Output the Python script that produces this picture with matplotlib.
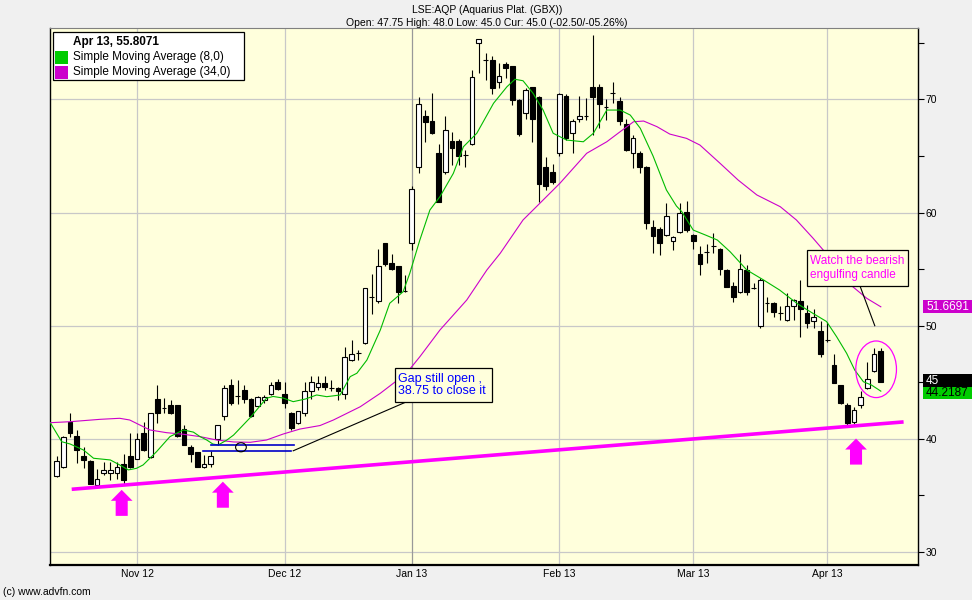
import matplotlib
matplotlib.use('Agg')
import matplotlib.pyplot as plt
import matplotlib.transforms as mtransforms
from matplotlib.patches import Rectangle, Ellipse, Polygon
import numpy as np
import pandas as pd

plt.rcParams['font.family'] = ['Liberation Sans', 'DejaVu Sans']

# daily candles, LSE:AQP, 16 Oct 2012 - 12 Apr 2013
opens = [36.7, 37.5, 41.5, 40.3, 38.5, 38.05, 35.9, 36.96, 36.96, 36.96,
         37.8, 38.5, 38.2, 40.5, 38.4, 43.5, 42.7, 43.0, 43.0, 40.9,
         39.3, 38.8, 37.5, 37.75, 40.0, 42.0, 44.75, 43.8, 44.3, 43.5,
         42.95, 43.45, 44.0, 45.05, 44.0, 42.26, 41.4, 42.3, 44.2, 44.6,
         44.9, 44.5, 44.5, 44.0, 47.0, 47.56, 48.5, 52.5, 52.2, 57.3,
         55.5, 55.3, 53.07, 57.3, 64.0, 68.5, 68.1, 65.3, 63.55, 66.35,
         66.35, 65.1, 66.05, 75.0, 73.5, 73.5, 71.5, 73.1, 72.9, 69.9,
         68.8, 71.1, 70.2, 64.05, 63.55, 65.3, 70.3, 67.0, 68.26, 68.5,
         71.1, 71.1, 69.3, 70.6, 69.85, 67.8, 65.3, 65.3, 64.0, 58.75,
         58.54, 58.0, 57.5, 58.25, 60.07, 58.0, 56.3, 56.5, 57.0, 56.8,
         54.9, 53.5, 53.0, 54.9, 53.3, 50.0, 52.0, 52.0, 51.1, 50.5,
         51.7, 52.2, 51.1, 50.45, 49.5, 48.7, 46.5, 44.76, 43.0, 41.45,
         43.0, 44.47, 46.0, 47.75]
highs = [38.5, 40.3, 42.3, 40.8, 39.3, 38.1, 37.3, 38.0, 38.0, 38.0,
         38.7, 40.5, 40.5, 41.5, 42.3, 44.8, 43.6, 43.4, 43.0, 41.2,
         39.5, 38.8, 38.6, 38.9, 41.2, 44.8, 45.3, 45.2, 44.8, 43.6,
         43.8, 43.9, 45.0, 45.3, 45.05, 42.4, 42.5, 45.0, 45.6, 45.6,
         45.6, 45.2, 44.6, 48.15, 48.7, 47.85, 53.3, 54.57, 56.8, 57.3,
         56.3, 55.3, 54.5, 62.3, 70.2, 69.1, 70.6, 66.05, 68.5, 67.1,
         66.5, 65.5, 72.6, 75.3, 74.06, 73.8, 73.2, 73.3, 72.9, 70.0,
         71.0, 71.1, 70.3, 64.9, 64.3, 70.6, 70.5, 68.3, 70.3, 70.1,
         75.7, 71.35, 70.0, 71.55, 70.2, 68.3, 66.85, 65.45, 64.1, 59.35,
         58.7, 60.8, 57.9, 60.8, 61.0, 58.1, 57.0, 57.2, 58.2, 56.9,
         55.0, 53.9, 56.3, 55.4, 53.75, 54.2, 52.56, 52.1, 51.7, 52.86,
         52.4, 54.0, 51.8, 51.45, 50.45, 50.35, 47.5, 44.8, 43.2, 42.8,
         44.26, 46.8, 48.0, 48.0]
lows = [36.6, 37.4, 40.2, 37.9, 37.4, 36.0, 35.85, 36.8, 36.4, 36.5,
        35.9, 37.4, 38.2, 38.9, 38.3, 41.4, 42.3, 42.2, 40.2, 39.5,
        38.0, 37.5, 37.4, 37.5, 39.5, 41.7, 43.0, 43.1, 43.2, 41.9,
        42.9, 43.2, 43.9, 44.3, 42.7, 40.8, 41.3, 42.0, 43.5, 44.3,
        44.3, 44.2, 43.4, 43.5, 46.9, 47.0, 48.4, 51.0, 52.0, 55.3,
        54.9, 52.0, 53.0, 56.7, 63.5, 66.25, 66.9, 60.9, 63.4, 64.2,
        64.2, 64.05, 66.0, 72.3, 71.7, 70.5, 71.0, 71.85, 69.5, 66.8,
        68.3, 66.25, 60.9, 62.0, 62.5, 65.0, 66.4, 65.3, 68.0, 68.2,
        66.85, 67.5, 68.2, 69.65, 67.7, 65.4, 63.9, 63.5, 58.5, 56.45,
        56.25, 57.9, 56.7, 58.2, 58.3, 56.75, 54.5, 55.5, 56.4, 54.5,
        53.4, 52.1, 52.9, 52.7, 53.2, 49.8, 51.2, 50.8, 50.5, 50.4,
        50.5, 49.0, 49.8, 49.8, 47.2, 48.6, 44.9, 43.1, 41.2, 41.3,
        42.7, 44.4, 45.9, 45.0]
closes = [38.05, 40.2, 40.5, 39.0, 38.1, 36.0, 36.5, 37.25, 37.25, 37.55,
          36.4, 37.5, 40.0, 39.0, 42.26, 42.26, 42.7, 42.3, 40.3, 39.5,
          38.7, 37.5, 37.8, 38.5, 41.2, 44.5, 43.2, 43.8, 43.5, 42.0,
          43.74, 43.74, 44.75, 44.4, 43.2, 40.94, 42.5, 44.2, 45.0, 44.9,
          44.6, 44.5, 44.2, 47.2, 47.5, 47.56, 53.3, 52.5, 55.3, 55.45,
          55.0, 53.0, 53.07, 62.05, 69.56, 68.0, 67.0, 60.95, 67.3, 65.7,
          65.0, 65.1, 72.0, 75.3, 73.5, 71.0, 72.05, 72.8, 69.9, 66.9,
          70.8, 68.3, 62.5, 62.3, 62.7, 70.5, 66.55, 68.1, 68.5, 68.5,
          70.2, 69.6, 69.3, 70.6, 68.1, 65.5, 66.55, 64.0, 59.05, 57.95,
          57.28, 59.7, 57.8, 60.0, 58.45, 57.5, 55.45, 56.5, 57.0, 55.0,
          53.45, 52.5, 55.0, 53.0, 53.3, 54.04, 52.0, 51.2, 51.1, 51.75,
          52.25, 51.5, 50.2, 50.75, 47.5, 48.7, 44.97, 43.2, 41.4, 42.55,
          43.73, 45.27, 47.5, 45.0]

# moving averages (candle index, price)
sma8_x = [-0.9, 0.75, 2.0, 4.0, 5.5, 8.0, 9.4, 10.7, 11.9, 12.9,
          14.9, 16.9, 18.9, 20.4, 21.4, 22.4, 23.3, 24.1, 25.4, 26.4,
          28.9, 31.3, 32.3, 33.8, 35.3, 37.1, 38.8, 40.3, 42.3, 43.8,
          44.8, 46.3, 48.3, 49.7, 51.7, 52.7, 54.2, 55.7, 57.2, 59.2,
          60.7, 62.7, 65.2, 67.2, 68.4, 69.6, 71.1, 72.6, 74.1, 76.1,
          78.6, 80.1, 82.1, 84.1, 85.6, 87.1, 89.0, 91.0, 92.5, 93.3,
          95.0, 97.0, 98.6, 100.5, 103.0, 105.5, 107.9, 110.6, 112.9, 114.9,
          116.4, 117.9, 119.1, 120.4, 121.6, 123.0]
sma8_y = [41.37, 39.75, 39.55, 39.02, 38.29, 38.14, 37.70, 37.26, 37.40, 37.70,
          38.87, 40.20, 40.79, 40.6, 40.20, 39.90, 39.55, 39.46, 39.90, 40.34,
          41.89, 43.59, 43.75, 43.61, 43.29, 43.52, 43.88, 43.73, 43.88, 45.5,
          45.8, 46.97, 49.62, 51.98, 53.0, 54.63, 57.57, 60.22, 61.40, 63.46,
          65.81, 67.0, 69.65, 71.11, 71.77, 71.64, 70.53, 69.05, 67.0, 66.40,
          66.25, 67.0, 69.05, 69.05, 68.61, 67.44, 65.0, 61.99, 60.57, 60.07,
          58.45, 57.97, 57.57, 56.54, 54.92, 54.04, 53.15, 51.92, 51.08, 50.37,
          49.03, 47.56, 46.09, 45.05, 44.76, 44.22]
sma34_x = [-1.0, 2.0, 6.5, 9.4, 10.9, 12.4, 13.9, 16.4, 18.9, 21.4,
           23.9, 26.4, 28.9, 31.3, 33.8, 36.3, 39.3, 41.3, 45.3, 48.3,
           52.2, 54.2, 57.2, 61.2, 64.2, 66.2, 69.6, 72.1, 75.1, 79.1,
           82.1, 84.1, 86.1, 87.6, 89.6, 91.5, 94.0, 96.0, 99.0, 101.7,
           104.5, 108.0, 110.4, 112.9, 114.4, 118.8, 120.9, 123.0]
sma34_y = [41.43, 41.52, 41.73, 41.82, 41.67, 41.23, 40.79, 40.55, 40.41, 40.2,
           39.9, 39.73, 39.70, 39.90, 40.43, 40.87, 41.18, 41.67, 42.84, 44.03,
           45.80, 47.26, 49.62, 52.27, 54.92, 56.40, 59.34, 60.81, 62.58, 65.23,
           66.25, 67.14, 68.02, 68.08, 67.58, 66.93, 66.55, 65.96, 64.35, 62.87,
           61.55, 60.51, 59.34, 57.72, 56.69, 53.45, 52.42, 51.67]

last_sma8 = 44.2187
last_sma34 = 51.6691
uk_holidays = ['2012-12-25', '2012-12-26', '2013-01-01', '2013-03-29', '2013-04-01']

W, H = 972, 600
BG = '#FFFFDC'
MAG = '#FF00FF'


def px(x, y):
    # pixel position -> figure fraction
    return x / W, 1 - y / H


dates = pd.bdate_range('2012-10-16', periods=len(closes), freq='C', holidays=uk_holidays)
x = np.arange(len(closes))
o = np.array(opens)
c = np.array(closes)
month_pos = [i for i in range(1, len(dates)) if dates[i].month != dates[i - 1].month]
month_lab = [dates[i].strftime('%b %y') for i in month_pos]

fig = plt.figure(figsize=(W / 100, H / 100), dpi=100, facecolor='#F0F0F0')
ax = fig.add_axes([50 / W, 35 / H, 868 / W, 537 / H])
ax.set_facecolor(BG)
ax.set_xlim(-1.0, 128.55)
ax.set_ylim(28.86, 76.3)

# grid
for p in range(30, 80, 10):
    ax.axhline(p, color='#C8C8C8', lw=0.9, zorder=0)
for i in month_pos:
    col = '#999999' if dates[i].month == 1 else '#C8C8C8'
    ax.axvline(i, color=col, lw=0.9, zorder=0)

# candles
up = c >= o
ax.vlines(x, lows, highs, color='black', lw=0.8, zorder=2)
ax.bar(x[up], (c - o)[up], bottom=o[up], width=0.7, color='white',
       edgecolor='black', lw=0.8, zorder=3)
ax.bar(x[~up], (o - c)[~up], bottom=c[~up], width=0.7, color='black',
       edgecolor='black', lw=0.8, zorder=3)

# moving averages
ax.plot(sma34_x, sma34_y, color='#CC00CC', lw=0.8, zorder=4)
ax.plot(sma8_x, sma8_y, color='#00BB00', lw=0.8, zorder=4)

# hand-drawn annotations
ax.plot([2.24, 126.4], [35.55, 41.5], color=MAG, lw=2.6, zorder=5,
        solid_capstyle='butt')


def up_arrow(cx, tip):
    hw, sw, hl, ln = 1.62, 0.9, 0.97, 2.3
    pts = [(cx, tip), (cx + hw, tip - hl), (cx + sw, tip - hl), (cx + sw, tip - ln),
           (cx - sw, tip - ln), (cx - sw, tip - hl), (cx - hw, tip - hl)]
    ax.add_patch(Polygon(pts, closed=True, facecolor=MAG, edgecolor='none', zorder=5))


up_arrow(9.7, 35.5)
up_arrow(24.8, 36.22)
up_arrow(119.3, 40.03)

ax.add_patch(Ellipse((122.3, 46.15), 6.07, 5.0, fill=False, edgecolor=MAG,
                     lw=0.9, zorder=5))
ax.plot([23.1, 35.4], [39.46, 39.46], color='#0000C8', lw=1.2, zorder=5)
ax.plot([21.8, 34.9], [38.9, 38.9], color='#0000C8', lw=1.2, zorder=5)
ax.add_patch(Ellipse((27.5, 39.26), 1.6, 0.8, fill=False, edgecolor='black',
                     lw=0.8, zorder=6))

ax.plot([35.3, 52.3], [38.95, 43.3], color='black', lw=0.8, zorder=5)
ax.add_patch(Rectangle((50.5, 43.3), 14.4, 3.0, facecolor=BG, edgecolor='black',
                       lw=0.9, zorder=7))
ax.text(50.95, 45.27, 'Gap still open ,', color='#0000FF', fontsize=9,
        va='center', ha='left', zorder=8)
ax.text(50.95, 44.23, '38.75 to close it', color='#0000FF', fontsize=9,
        va='center', ha='left', zorder=8)

ax.plot([119.9, 122.1], [53.5, 50.0], color='black', lw=0.8, zorder=5)
ax.add_patch(Rectangle((112.0, 53.51), 15.0, 3.15, facecolor=BG, edgecolor='black',
                       lw=0.9, zorder=7))
ax.text(112.4, 55.72, 'Watch the bearish', color=MAG, fontsize=8.5,
        va='center', ha='left', zorder=8)
ax.text(112.4, 54.48, 'engulfing candle', color=MAG, fontsize=8.5,
        va='center', ha='left', zorder=8)

# axes and ticks
for s in ['left', 'bottom', 'right']:
    ax.spines[s].set_color('black')
ax.spines['bottom'].set_linewidth(1.6)
ax.spines['left'].set_linewidth(1.0)
ax.spines['right'].set_linewidth(1.0)
ax.spines['top'].set_color('#808080')
ax.yaxis.tick_right()
ax.set_yticks(range(30, 80, 10))
ax.set_yticks(range(35, 80, 10), minor=True)
ax.tick_params(axis='y', which='both', direction='out', length=4, width=0.8,
               labelsize=7.5, pad=1.5)
ax.set_xticks(month_pos)
ax.set_xticklabels(month_lab)
ax.tick_params(axis='x', length=0, labelsize=7.5, pad=3)

# value flags on the right edge
flag = mtransforms.blended_transform_factory(fig.transFigure, ax.transData)
flags = [(last_sma34, 0.0, '#CC00CC', 'white', '%.4f' % last_sma34),
         (closes[-1], 0.13, 'black', 'white', '%g' % closes[-1]),
         (last_sma8, -0.17, '#00CC00', 'black', '%.4f' % last_sma8)]
for val, off, fc, tc, txt in flags:
    yc = val + off
    ax.add_patch(Rectangle((922.7 / W, yc - 0.56), 1 - 922.7 / W, 1.12, transform=flag,
                           facecolor=fc, edgecolor='none', clip_on=False, zorder=9))
    ax.text(926 / W, yc, txt, transform=flag, color=tc, fontsize=8.5, va='center',
            ha='left', clip_on=False, zorder=10)

# legend box
fig.patches.append(Rectangle(px(53.3, 80), (244 - 53.3) / W, 47.7 / H,
                             transform=fig.transFigure, facecolor='white',
                             edgecolor='black', lw=0.9, zorder=10))
fig.patches.append(Rectangle(px(54.5, 64.3), 13.6 / W, 13.6 / H, transform=fig.transFigure,
                             facecolor='#00CC00', edgecolor='none', zorder=11))
fig.patches.append(Rectangle(px(54.5, 79), 13.6 / W, 13.3 / H, transform=fig.transFigure,
                             facecolor='#CC00CC', edgecolor='none', zorder=11))
fig.text(*px(73, 42.3), 'Apr 13, 55.8071', fontsize=8.5, fontweight='bold',
         va='center', ha='left', zorder=12)
fig.text(*px(73, 57.3), 'Simple Moving Average (8,0)', fontsize=8.5,
         va='center', ha='left', zorder=12)
fig.text(*px(73, 72.3), 'Simple Moving Average (34,0)', fontsize=8.5,
         va='center', ha='left', zorder=12)

# titles and footer
fig.text(*px(487, 10), 'LSE:AQP (Aquarius Plat. (GBX))', fontsize=7.5,
         ha='center', va='center')
fig.text(*px(487, 22.7), 'Open: 47.75 High: 48.0 Low: 45.0 Cur: 45.0 (-02.50/-05.26%)',
         fontsize=7.5, ha='center', va='center')
fig.text(*px(3, 592), '(c) www.advfn.com', fontsize=7.5, ha='left', va='center')

fig.savefig('out.png', dpi=100, facecolor=fig.get_facecolor())
